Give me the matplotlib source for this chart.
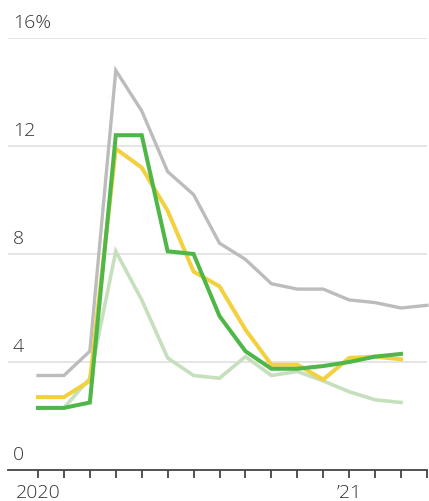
import matplotlib
matplotlib.use("Agg")
import matplotlib.pyplot as plt
from matplotlib import font_manager

# Monthly unemployment rates, Jan 2020 onward (percent)
months = list(range(16))  # 0 = Jan 2020 ... 15 = Apr 2021
gray_vals = [3.5, 3.5, 4.4, 14.8, 13.3, 11.05, 10.2, 8.4, 7.8, 6.9, 6.7, 6.7, 6.3, 6.2, 6.0, 6.1]
yellow_vals = [2.7, 2.7, 3.3, 11.9, 11.2, 9.6, 7.35, 6.8, 5.2, 3.9, 3.9, 3.35, 4.15, 4.2, 4.1]
green_vals = [2.3, 2.3, 2.5, 12.4, 12.4, 8.1, 8.0, 5.7, 4.4, 3.75, 3.75, 3.85, 4.0, 4.2, 4.3]
light_green_vals = [2.3, 2.3, 3.4, 8.1, 6.3, 4.15, 3.5, 3.4, 4.2, 3.5, 3.65, 3.3, 2.9, 2.6, 2.5]

y_ticks = [0, 4, 8, 12, 16]
y_tick_labels = ["0", "4", "8", "12", "16%"]
x_label_pos = [0, 12]
x_labels = ["2020", "\u201921"]

available = {f.name for f in font_manager.fontManager.ttflist}
family = "Open Sans" if "Open Sans" in available else "DejaVu Sans"
plt.rcParams["font.family"] = [family, "DejaVu Sans"]

text_color = "#333333"

fig = plt.figure(figsize=(4.29, 5.01), dpi=100)
ax = fig.add_axes([8 / 429, (501 - 470) / 501, 419 / 429, (470 - 38) / 501])

x0 = (8 - 38) / 25.93
x1 = (427 - 38) / 25.93
ax.set_xlim(x0, x1)
ax.set_ylim(0, 16)

# Gridlines
for v in y_ticks[1:]:
    ax.axhline(v, color="#e3e3e3", lw=1.3, zorder=0)

lw = 2.9
ax.plot(months[:len(light_green_vals)], light_green_vals, color="#c6dfbd", lw=2.6,
        solid_joinstyle="miter", zorder=2, clip_on=False)
ax.plot(months[:len(gray_vals)], gray_vals, color="#bcbcbc", lw=2.4,
        solid_joinstyle="miter", zorder=3, clip_on=False)
ax.plot(months[:len(yellow_vals)], yellow_vals, color="#f3d03e", lw=lw,
        solid_joinstyle="miter", zorder=4, clip_on=False)
ax.plot(months[:len(green_vals)], green_vals, color="#4fb748", lw=lw,
        solid_joinstyle="miter", zorder=5, clip_on=False)

# Y labels sit above the gridlines at the left edge
for v, lab in zip(y_ticks, y_tick_labels):
    ax.text((13 - 38) / 25.93, v + 0.22, lab, fontsize=14, fontweight="light",
            color=text_color, ha="left", va="bottom")

for s in ["top", "right", "left"]:
    ax.spines[s].set_visible(False)
ax.spines["bottom"].set_color("#444444")
ax.spines["bottom"].set_linewidth(1.3)
ax.set_yticks([])

ax.set_xticks(months)
ax.set_xticklabels([])
ax.tick_params(axis="x", direction="out", length=6, width=1.3, color="#444444")

for m, lab in zip(x_label_pos, x_labels):
    ax.text(m, -0.5, lab, fontsize=14, fontweight="light", color=text_color,
            ha="center", va="top")

fig.savefig("out.png", dpi=100)
